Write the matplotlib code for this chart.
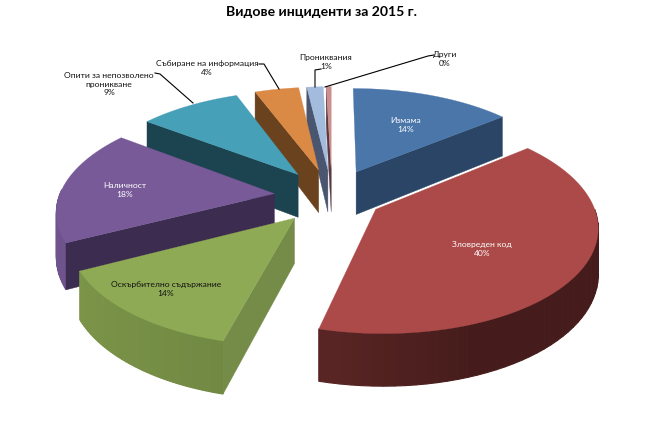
import numpy as np
import matplotlib
matplotlib.use('Agg')
import matplotlib.pyplot as plt
from matplotlib.patches import Polygon
from matplotlib.colors import to_rgb

plt.rcParams['font.family'] = ['Lato', 'DejaVu Sans']

# chart data, clockwise from 12 o'clock
categories = ['Измама', 'Зловреден код', 'Оскърбително съдържание', 'Наличност',
              'Опити за непозволено\nпроникване', 'Събиране на информация',
              'Прониквания', 'Други']
values = [14.2, 40.0, 13.5, 17.8, 9, 3.9, 1.45, 0.45]
percent_labels = ['14%', '40%', '14%', '18%', '9%', '4%', '1%', '0%']

top_colors = ['#4a76a9', '#ab4a48', '#8eaa55', '#775a97', '#46a0b8', '#db8a45', '#a3bbdd', '#cd8f8e']
side_colors = ['#2a4565', '#4a1f1e', '#748c48', '#3c2c50', '#1c4450', '#6a421e', '#4a5570', '#5a3a40']
rim_left = ['#2a4565', '#733030', '#7d9649', '#6f548e', '#1c4450', '#6a421e', '#4a5570', '#5a3a40']
rim_right = ['#2a4565', '#451c1b', '#667d3d', '#604880', '#1c4450', '#6a421e', '#4a5570', '#5a3a40']
explode = [0.27, 0.237, 0.27, 0.27, 0.27, 0.27, 0.27, 0.27]

label_pos = [(406, 125), (482, 249), (166, 289), (125, 190), (109, 84), (207, 68), (326, 62), (445, 59)]
label_colors = ['white', 'white', '#111111', 'white', '#111111', '#111111', '#111111', '#111111']

leaders = [
    [(155, 73), (160, 74), (193, 103)],
    [(259, 64), (264, 64), (279, 89)],
    [(321, 69), (315, 70), (315, 87)],
    [(434, 55), (428, 56), (325, 87)],
]

# projection of the tilted disc
CX, CY = 332, 196
A, B = 215, 102
K = 0.145
DEPTH = 44


def project(x, y, z=0.0):
    s = 1 / (1 + K * y)
    return CX + A * x * s, CY - B * y * s + z * s


fig = plt.figure(figsize=(6.57, 4.25), dpi=100)
ax = fig.add_axes([0, 0, 1, 1])
ax.set_xlim(0, 657)
ax.set_ylim(425, 0)
ax.axis('off')

fractions = np.array(values) / sum(values)
ends = 90 - 360 * np.cumsum(fractions)
starts = ends + 360 * fractions

wedges = []
for i in range(len(values)):
    mid = np.radians((starts[i] + ends[i]) / 2)
    tx, ty = explode[i] * np.cos(mid), explode[i] * np.sin(mid)
    th = np.radians(np.linspace(starts[i], ends[i], 60))
    wedges.append((ty, i, tx, th))

# back to front
for ty, i, tx, th in sorted(wedges, key=lambda w: -w[0]):
    rx = tx + np.cos(th)
    ry = ty + np.sin(th)

    # curved outer face, only the part facing us, shaded left to right
    c0, c1 = np.array(to_rgb(rim_left[i])), np.array(to_rgb(rim_right[i]))
    for j in range(len(th) - 1):
        if np.sin(th[j]) > 0.02:
            continue
        t = np.clip((np.cos(th[j]) + 1) / 1.4, 0, 1)
        col = c0 + (c1 - c0) * t
        quad = [project(rx[j], ry[j]), project(rx[j + 1], ry[j + 1]),
                project(rx[j + 1], ry[j + 1], DEPTH), project(rx[j], ry[j], DEPTH)]
        ax.add_patch(Polygon(quad, facecolor=col, edgecolor=col, lw=0.8))

    # flat cut faces that look towards the viewer
    for k, visible in ((0, np.cos(th[0]) < 0), (-1, np.cos(th[-1]) > 0)):
        if visible:
            face = [project(tx, ty), project(rx[k], ry[k]),
                    project(rx[k], ry[k], DEPTH), project(tx, ty, DEPTH)]
            ax.add_patch(Polygon(face, color=side_colors[i], lw=0.3))

    top = [project(tx, ty)] + [project(a, b) for a, b in zip(rx, ry)]
    ax.add_patch(Polygon(top, color=top_colors[i], lw=0.2))

for pts in leaders:
    ax.plot([p[0] for p in pts], [p[1] for p in pts], color='black', lw=0.8)

for name, pct, pos, col in zip(categories, percent_labels, label_pos, label_colors):
    ax.text(pos[0], pos[1], name + '\n' + pct, color=col, fontsize=6.1, ha='center', va='center',
            linespacing=1.3)

ax.text(321, 12, 'Видове инциденти за 2015 г.', fontsize=10.1, fontweight='bold', ha='center', va='center')

fig.savefig('out.png', dpi=100)
